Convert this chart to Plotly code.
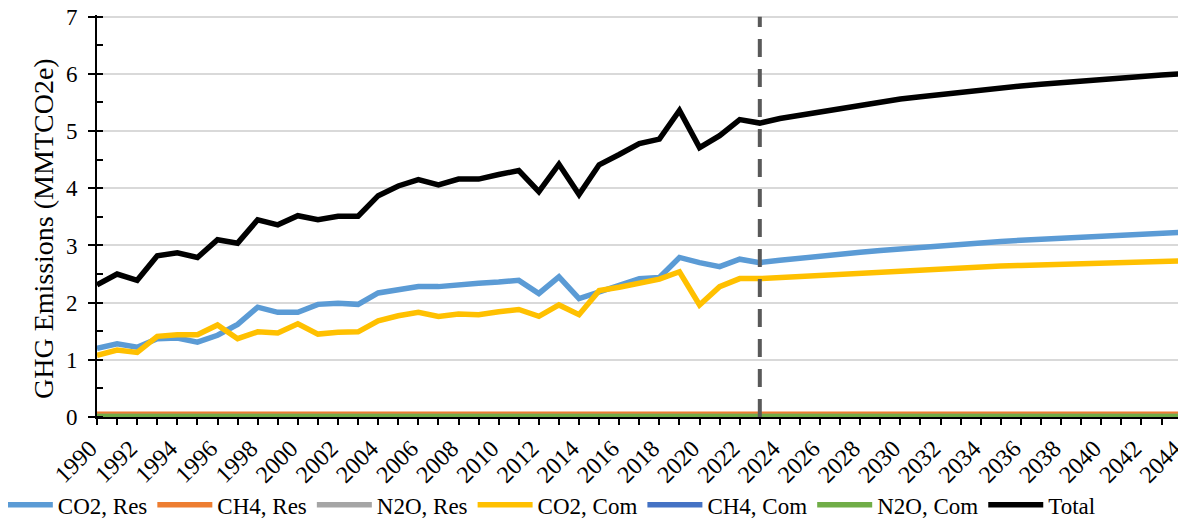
import plotly.graph_objects as go

years = list(range(1990, 2045))

co2_res = [1.20, 1.28, 1.22, 1.37, 1.38, 1.31, 1.43, 1.62, 1.92, 1.83,
           1.83, 1.97, 1.99, 1.97, 2.17, 2.23, 2.28, 2.28, 2.32, 2.34,
           2.36, 2.39, 2.16, 2.45, 2.07, 2.19, 2.31, 2.42, 2.44, 2.79,
           2.70, 2.63, 2.76, 2.70,
           2.74, 2.78, 2.81, 2.85, 2.88, 2.91, 2.94, 2.97, 3.00, 3.03,
           3.05, 3.07, 3.09, 3.11, 3.13, 3.15, 3.17, 3.18, 3.20, 3.21, 3.23]

ch4_res = [0.05, 0.05, 0.05, 0.05, 0.05, 0.05, 0.06, 0.06, 0.06, 0.06,
           0.06, 0.05, 0.05, 0.05, 0.05, 0.05, 0.05, 0.05, 0.05, 0.05,
           0.05, 0.05, 0.05, 0.05, 0.05, 0.05, 0.05, 0.05, 0.05, 0.05,
           0.05, 0.05, 0.05, 0.05,
           0.05, 0.05, 0.05, 0.05, 0.05, 0.05, 0.05, 0.05, 0.05, 0.05,
           0.05, 0.05, 0.05, 0.05, 0.05, 0.05, 0.05, 0.05, 0.05, 0.05, 0.05]

n2o_res = [0.01, 0.01, 0.01, 0.01, 0.01, 0.01, 0.01, 0.01, 0.01, 0.01,
           0.01, 0.01, 0.01, 0.01, 0.01, 0.01, 0.01, 0.01, 0.01, 0.01,
           0.01, 0.01, 0.01, 0.01, 0.01, 0.01, 0.01, 0.01, 0.01, 0.01,
           0.01, 0.01, 0.01, 0.01,
           0.01, 0.01, 0.01, 0.01, 0.01, 0.01, 0.01, 0.01, 0.01, 0.01,
           0.01, 0.01, 0.01, 0.01, 0.01, 0.01, 0.01, 0.01, 0.01, 0.01, 0.01]

co2_com = [1.08, 1.17, 1.13, 1.41, 1.44, 1.44, 1.61, 1.37, 1.49, 1.47,
           1.63, 1.45, 1.48, 1.49, 1.68, 1.77, 1.83, 1.76, 1.80, 1.79,
           1.84, 1.88, 1.76, 1.96, 1.79, 2.21, 2.27, 2.35, 2.41, 2.54,
           1.96, 2.28, 2.42, 2.42,
           2.44, 2.46, 2.48, 2.50, 2.52, 2.54, 2.56, 2.58, 2.60, 2.61,
           2.63, 2.64, 2.65, 2.66, 2.67, 2.68, 2.69, 2.70, 2.71, 2.72, 2.73]

ch4_com = [0.005, 0.005, 0.005, 0.005, 0.005, 0.005, 0.005, 0.005, 0.005, 0.005,
           0.005, 0.005, 0.005, 0.005, 0.005, 0.005, 0.005, 0.005, 0.005, 0.005,
           0.005, 0.005, 0.005, 0.005, 0.005, 0.005, 0.005, 0.005, 0.005, 0.005,
           0.005, 0.005, 0.005, 0.005,
           0.005, 0.005, 0.005, 0.005, 0.005, 0.005, 0.005, 0.005, 0.005, 0.005,
           0.005, 0.005, 0.005, 0.005, 0.005, 0.005, 0.005, 0.005, 0.005, 0.005, 0.005]

n2o_com = [0.01, 0.01, 0.01, 0.01, 0.01, 0.01, 0.01, 0.01, 0.01, 0.01,
           0.01, 0.01, 0.01, 0.01, 0.01, 0.01, 0.01, 0.01, 0.01, 0.01,
           0.01, 0.01, 0.01, 0.01, 0.01, 0.01, 0.01, 0.01, 0.01, 0.01,
           0.01, 0.01, 0.01, 0.01,
           0.01, 0.01, 0.01, 0.01, 0.01, 0.01, 0.01, 0.01, 0.01, 0.01,
           0.01, 0.01, 0.01, 0.01, 0.01, 0.01, 0.01, 0.01, 0.01, 0.01, 0.01]

total = [2.31, 2.50, 2.39, 2.82, 2.87, 2.79, 3.10, 3.04, 3.45, 3.36,
         3.52, 3.45, 3.51, 3.51, 3.87, 4.04, 4.15, 4.06, 4.16, 4.16,
         4.24, 4.31, 3.94, 4.42, 3.89, 4.41, 4.59, 4.78, 4.86, 5.36,
         4.71, 4.92, 5.20, 5.14,
         5.22, 5.28, 5.34, 5.40, 5.46, 5.51, 5.56, 5.60, 5.64, 5.69,
         5.73, 5.76, 5.79, 5.82, 5.85, 5.88, 5.91, 5.93, 5.95, 5.98, 6.00]

projection_start = 2023
label_years = years[::2]
y_ticks = [0, 1, 2, 3, 4, 5, 6, 7]
y_title = "GHG Emissions (MMTCO2e)"

series = [
    ("CO2, Res", co2_res, "#5B9BD5"),
    ("CH4, Res", ch4_res, "#ED7D31"),
    ("N2O, Res", n2o_res, "#A5A5A5"),
    ("CO2, Com", co2_com, "#FFC000"),
    ("CH4, Com", ch4_com, "#4472C4"),
    ("N2O, Com", n2o_com, "#70AD47"),
    ("Total", total, "#000000"),
]

FONT = "Liberation Serif, Times New Roman, serif"

fig = go.Figure()
for name, vals, color in series:
    fig.add_trace(go.Scatter(x=years, y=vals, name=name, mode="lines",
                             line=dict(color=color, width=5.5),
                             cliponaxis=False))

fig.add_shape(type="line", xref="x", yref="y",
              x0=projection_start, x1=projection_start, y0=0, y1=7,
              line=dict(color="#595959", width=4, dash="18px,12px"),
              layer="above")

fig.add_annotation(text=y_title, textangle=-90, xref="paper", yref="paper",
                   x=-0.0498, y=0.47, xanchor="center", yanchor="middle",
                   showarrow=False, font=dict(size=28))

fig.update_layout(
    width=1178, height=515,
    margin=dict(l=89, r=4, t=7, b=106, autoexpand=False),
    paper_bgcolor="white", plot_bgcolor="white",
    font=dict(family=FONT, size=23, color="black"),
    showlegend=True,
    legend=dict(orientation="h", x=-0.096, xanchor="left", y=-0.165, yanchor="top",
                font=dict(size=23), itemwidth=55,
                tracegroupgap=0, bgcolor="rgba(0,0,0,0)"),
)

fig.update_xaxes(
    range=[1990, 2044.02], tickmode="array", tickvals=label_years,
    ticktext=[str(y) for y in label_years], tickangle=-45,
    ticklabeloverflow="allow", ticklabelshift=-7,
    showgrid=False, zeroline=False,
    showline=True, linecolor="black", linewidth=2,
    ticks="outside", ticklen=6, tickwidth=2, tickcolor="black",
    minor=dict(tickmode="array", tickvals=years, ticks="outside", ticklen=6,
               tickwidth=2, tickcolor="black"),
    tickfont=dict(size=24),
)

fig.update_yaxes(
    range=[0, 7.03], tickmode="array", tickvals=y_ticks,
    ticklabeloverflow="allow",
    showgrid=True, gridcolor="#D9D9D9", gridwidth=2,
    zeroline=False,
    showline=True, linecolor="black", linewidth=2,
    ticks="outside", ticklen=7, tickwidth=2, tickcolor="black",
    minor=dict(dtick=0.5, ticks="inside", ticklen=6, tickwidth=2, tickcolor="black", showgrid=False),
    ticklabelstandoff=6,
    tickfont=dict(size=23),
)

fig.write_html("out.html")
